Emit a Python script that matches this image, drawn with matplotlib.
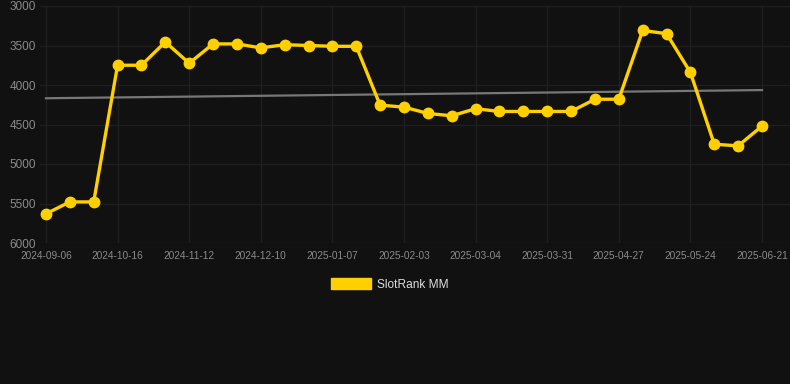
import numpy as np
import matplotlib
matplotlib.use("Agg")
import matplotlib.pyplot as plt

# Weekly SlotRank positions (lower is better, so the axis is inverted)
tick_labels = ["2024-09-06", "2024-10-16", "2024-11-12", "2024-12-10", "2025-01-07",
               "2025-02-03", "2025-03-04", "2025-03-31", "2025-04-27", "2025-05-24",
               "2025-06-21"]
rank = [5630, 5480, 5480, 3750, 3750, 3455, 3725, 3480, 3480, 3530, 3490,
        3500, 3510, 3510, 4255, 4280, 4360, 4390, 4300, 4335, 4335, 4335,
        4335, 4180, 4180, 3310, 3350, 3840, 4750, 4770, 4520]
y_ticks = [3000, 3500, 4000, 4500, 5000, 5500, 6000]

bg = "#111111"
gold = "#ffd000"

plt.rcParams["font.family"] = ["Liberation Sans", "DejaVu Sans"]
fig = plt.figure(figsize=(7.9, 3.84), dpi=100, facecolor=bg)
ax = fig.add_axes([40 / 790, (384 - 243) / 384, 750 / 790, 237 / 384])
ax.set_facecolor(bg)

x = np.arange(len(rank))
ax.plot(x, rank, color=gold, lw=2.4, marker="o", ms=7.5, zorder=3)

# linear trend line
k, b = np.polyfit(x, rank, 1)
ax.plot(x, k * x + b, color="#777777", lw=1.6, zorder=2)

ax.set_xlim(-0.25, len(rank) - 1 + 28 / 23.87)
ax.set_ylim(6000, 3000)
ax.set_yticks(y_ticks)
ax.set_xticks(x[::3])
ax.set_xticklabels(tick_labels)

ax.grid(True, color="#1f1f1f", lw=1.0)
for s in ax.spines.values():
    s.set_visible(False)
ax.tick_params(axis="y", length=0, labelsize=8.5, labelcolor="#8a8a8a", pad=3)
ax.tick_params(axis="x", length=0, labelsize=7.3, labelcolor="#8a8a8a", pad=6)

# legend
fig.patches.append(plt.Rectangle((331 / 790, 1 - 289 / 384), 40 / 790, 11 / 384,
                                 transform=fig.transFigure, color=gold))
fig.text(377 / 790, 1 - 285 / 384, "SlotRank MM", color="#dddddd",
         fontsize=8.6, va="center", ha="left")

fig.savefig("out.png", dpi=100, facecolor=bg)
